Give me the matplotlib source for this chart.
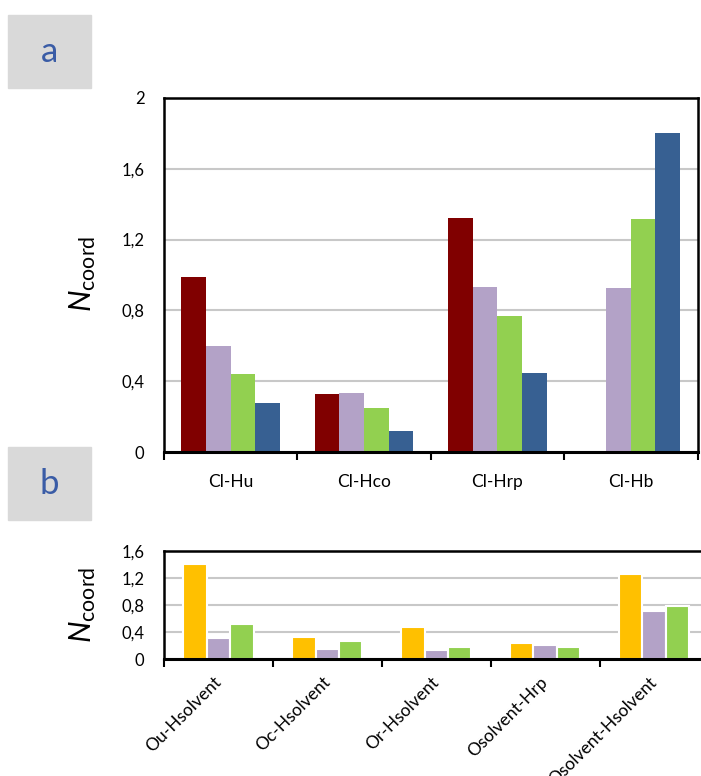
import numpy as np
import matplotlib
matplotlib.use('Agg')
from matplotlib import pyplot as plt
from matplotlib.patches import Rectangle

plt.rcParams['font.family'] = ['Lato', 'DejaVu Sans']
plt.rcParams['mathtext.fontset'] = 'custom'
plt.rcParams['mathtext.rm'] = 'Lato'
plt.rcParams['mathtext.it'] = 'Lato:italic'

# panel a data
cats_a = ['Cl-Hu', 'Cl-Hco', 'Cl-Hrp', 'Cl-Hb']
red_a = [0.99, 0.33, 1.32, np.nan]
purple_a = [0.60, 0.335, 0.93, 0.925]
green_a = [0.44, 0.25, 0.77, 1.315]
blue_a = [0.275, 0.12, 0.445, 1.80]
yticks_a = [0, 0.4, 0.8, 1.2, 1.6, 2]
ylabels_a = ['0', '0,4', '0,8', '1,2', '1,6', '2']

# panel b data
cats_b = ['Ou-Hsolvent', 'Oc-Hsolvent', 'Or-Hsolvent', 'Osolvent-Hrp', 'Osolvent-Hsolvent']
orange_b = [1.41, 0.33, 0.48, 0.23, 1.26]
purple_b = [0.31, 0.155, 0.135, 0.205, 0.705]
green_b = [0.51, 0.26, 0.18, 0.18, 0.785]
yticks_b = [0, 0.4, 0.8, 1.2, 1.6]
ylabels_b = ['0', '0,4', '0,8', '1,2', '1,6']

W, H = 701, 776
fig = plt.figure(figsize=(W / 100, H / 100), dpi=100)

def px(x0, y0, x1, y1):
    return [x0 / W, 1 - y1 / H, (x1 - x0) / W, (y1 - y0) / H]

def style_axes(ax, ncat, yticks, ylabels, ymax):
    ax.set_xlim(0, ncat)
    ax.set_ylim(0, ymax)
    ax.set_yticks(yticks)
    ax.set_yticklabels(ylabels, fontsize=12)
    ax.tick_params(axis='y', length=0, pad=14)
    ax.set_xticks(np.arange(ncat) + 0.5)
    ax.set_xticks(np.arange(ncat + 1), minor=True)
    ax.tick_params(axis='x', which='major', length=0)
    ax.tick_params(axis='x', which='minor', length=6, width=1.5, direction='out')
    ax.grid(axis='y', color='#c8c8c8', lw=1.5)
    ax.set_axisbelow(True)
    for s in ['left', 'top', 'right', 'bottom']:
        ax.spines[s].set_linewidth(1.8)
    ax.spines['bottom'].set_linewidth(2.2)

# ---- panel a
ax1 = fig.add_axes(px(164, 98, 697.5, 452))
x = np.arange(len(cats_a))
w = 0.185
series = [(red_a, '#800000'), (purple_a, '#b3a2c7'), (green_a, '#92d050'), (blue_a, '#376092')]
for i, (vals, c) in enumerate(series):
    ax1.bar(x + 0.5 + (i - 1.5) * w, vals, w, color=c, edgecolor='none', zorder=2)
style_axes(ax1, len(cats_a), yticks_a, ylabels_a, 2)
ax1.set_xticklabels(cats_a, fontsize=12.5)
ax1.tick_params(axis='x', which='major', pad=16)

# ---- panel b
ax2 = fig.add_axes(px(164, 550.7, 708.5, 659))
x = np.arange(len(cats_b))
w = 0.215
series = [(orange_b, '#ffc000'), (purple_b, '#b3a2c7'), (green_b, '#92d050')]
for i, (vals, c) in enumerate(series):
    ax2.bar(x + 0.5 + (i - 1) * w, vals, w, color=c, edgecolor='white', lw=1.5, zorder=2)
style_axes(ax2, len(cats_b), yticks_b, ylabels_b, 1.6)
ax2.spines['right'].set_visible(False)
ax2.set_xticklabels(cats_b, fontsize=12.5, rotation=45, ha='right', va='center',
                    rotation_mode='anchor')
ax2.tick_params(axis='x', which='major', pad=15)

# y labels
ylab = r'$N_{\mathrm{coord}}$'
fig.text(83 / W, 1 - 274 / H, ylab, rotation=90, ha='center', va='center', fontsize=22)
fig.text(83 / W, 1 - 605 / H, ylab, rotation=90, ha='center', va='center', fontsize=22)

# panel letters
for (y0, y1), lab in [((15, 88), 'a'), ((447, 520), 'b')]:
    fig.patches.append(Rectangle((8 / W, 1 - y1 / H), 83 / W, (y1 - y0) / H,
                                 transform=fig.transFigure, color='#d9d9d9', zorder=0))
    fig.text(49.5 / W, 1 - (y0 + y1) / 2 / H, lab, ha='center', va='center',
             fontsize=25, color='#3a5ca6')

plt.savefig('out.png', dpi=100)
